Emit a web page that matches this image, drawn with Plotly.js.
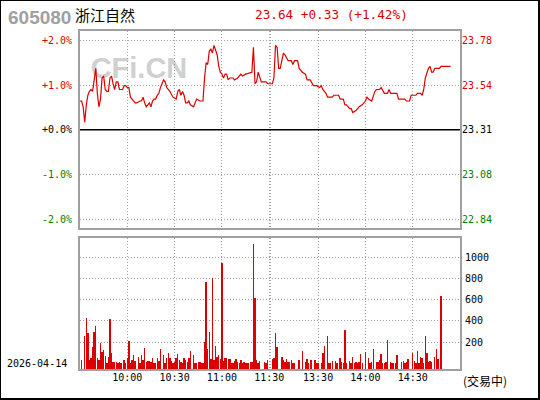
<!DOCTYPE html>
<html><head><meta charset="utf-8">
<script src="https://cdn.plot.ly/plotly-3.0.1.min.js"></script>
<style>
html,body{margin:0;padding:0;background:#fff;}
#wrap{position:relative;width:540px;height:400px;overflow:hidden;}
#chart{position:absolute;left:0;top:0;width:540px;height:400px;}
#frame{position:absolute;left:0;top:0;width:540px;height:400px;box-sizing:border-box;border-style:solid;border-color:#000;border-width:1px 2px 2px 1px;pointer-events:none;}
</style></head>
<body><div id="wrap"><div id="chart"></div><div id="frame"></div></div>
<script>
// ---- data ----
const stockCode = '605080';
const stockName = '浙江自然';
const prevClose = 23.31;
const lastPrice = 23.64;
const tradeDate = '2026-04-14';
const statusText = '(交易中)';
const watermark = 'CFi.CN';

// trading-minute index (0 = 09:30, 120 = 11:30, 121 = 13:00, 241 = 15:00)
const priceMin = [0,1,2,3,4,5,6,7,8,9,10,11,12,13,14,15,16,17,18,19,20,21,22,23,24,25,26,27,28,29,30,31,32,33,35,36,38,39,40,41,42,43,44,45,46,47,48,49,50,51,53,54,55,57,59,61,62,63,64,65,66,67,68,69,70,72,73,74,76,78,79,80,81,82,83,84,85,86,87,88,89,90,91,92,93,94,95,97,98,100,101,102,103,105,109,110,111,112,113,114,115,117,118,119,120,121,122,123,124,125,126,127,128,129,130,131,132,134,135,136,138,139,140,141,143,144,146,147,148,150,152,153,154,156,157,160,161,164,165,167,168,169,171,172,173,175,176,177,179,180,181,182,183,185,186,187,188,190,191,192,193,195,196,197,199,201,202,206,207,209,210,213,214,216,217,218,219,220,221,222,223,224,225,226,228,229,235];
const priceVal = [23.46,23.46,23.43,23.35,23.44,23.49,23.51,23.52,23.51,23.57,23.63,23.50,23.43,23.47,23.58,23.59,23.52,23.51,23.51,23.58,23.59,23.55,23.52,23.56,23.56,23.52,23.52,23.52,23.54,23.54,23.53,23.53,23.48,23.47,23.45,23.45,23.46,23.46,23.48,23.45,23.43,23.44,23.45,23.43,23.46,23.47,23.47,23.49,23.50,23.53,23.57,23.56,23.53,23.51,23.48,23.47,23.51,23.52,23.49,23.51,23.49,23.45,23.45,23.46,23.44,23.43,23.45,23.47,23.46,23.46,23.58,23.66,23.65,23.72,23.73,23.71,23.75,23.73,23.70,23.64,23.61,23.60,23.58,23.60,23.60,23.57,23.58,23.58,23.57,23.58,23.59,23.60,23.59,23.60,23.61,23.74,23.55,23.56,23.61,23.58,23.56,23.56,23.56,23.55,23.55,23.55,23.55,23.58,23.75,23.74,23.63,23.63,23.68,23.71,23.70,23.68,23.67,23.67,23.65,23.67,23.67,23.63,23.62,23.61,23.60,23.57,23.57,23.55,23.54,23.54,23.53,23.54,23.52,23.50,23.48,23.48,23.49,23.49,23.47,23.47,23.44,23.44,23.42,23.42,23.40,23.41,23.42,23.43,23.44,23.45,23.46,23.48,23.47,23.46,23.49,23.51,23.52,23.52,23.53,23.51,23.50,23.50,23.52,23.50,23.50,23.50,23.47,23.47,23.46,23.46,23.49,23.49,23.50,23.50,23.49,23.52,23.58,23.61,23.63,23.64,23.61,23.61,23.63,23.63,23.63,23.64,23.64];

const volMin = [1,3,4,5,6,7,8,9,10,11,12,13,14,15,16,17,18,19,20,21,22,23,24,25,26,28,29,30,31,32,33,34,35,37,38,39,40,41,42,43,44,45,46,47,48,49,50,51,53,54,55,56,57,58,59,60,61,62,63,64,65,66,67,68,69,70,72,73,74,75,76,77,78,79,80,81,82,83,84,85,86,87,88,89,90,91,92,93,94,95,96,97,98,99,100,101,102,103,104,105,106,107,108,109,110,111,112,113,114,117,118,119,122,123,124,125,128,129,130,131,132,133,134,135,136,139,141,143,144,145,146,147,149,150,151,153,154,155,157,158,159,160,162,163,165,166,167,168,169,171,172,173,174,175,176,177,178,179,181,183,184,185,186,188,189,190,191,192,193,194,195,197,198,199,200,201,204,205,206,207,208,211,212,213,214,215,216,217,218,219,220,221,222,223,225,226,227,229];
const volVal = [88,314,480,339,88,107,210,351,408,107,88,248,163,182,125,60,116,474,154,69,69,69,60,69,60,88,60,107,267,60,88,135,78,116,60,135,88,201,69,78,78,69,107,60,60,107,78,191,135,60,107,154,107,78,60,69,107,144,88,69,60,107,88,69,107,173,135,60,60,69,69,60,60,257,822,191,351,97,860,88,220,116,135,97,1001,78,107,107,97,97,60,60,78,97,69,60,88,60,69,60,60,60,69,69,1179,672,88,60,78,69,60,88,97,107,342,210,116,88,69,97,69,69,88,60,60,88,173,69,97,60,88,88,88,60,60,60,154,220,314,60,60,78,78,60,107,69,60,370,60,78,60,116,60,69,60,69,144,60,163,107,60,69,191,69,69,88,144,60,60,69,276,69,60,60,60,135,69,78,60,69,97,154,78,60,173,60,116,107,60,314,154,69,78,69,116,191,97,690];

const timeTickMin  = [30,60,90,120,121,151,181,211];
const timeTickText = ['10:00','10:30','11:00','11:30','','13:30','14:00','14:30'];
const pctTicks = [2,1,0,-1,-2];
const volTicks = [200,400,600,800,1000];

// ---- styling / geometry ----
const W = 540, H = 400, L = 80, R = 80, T = 31, B = 31;
const plotH = H - T - B;
const py = p => (H - B - p) / plotH;
const px = p => (p - L) / (W - L - R);
const RED = '#dd0000', GREEN = '#008000';
const GRID = '#a0a0a0', FRAME = '#a0a0a0';
const mono = 'DejaVu Sans Mono, monospace';
const pctRange = [-2.194, 2.208];
const priceRange = pctRange.map(p => prevClose * (1 + p / 100));
const volBaseOffset = 54;     // zero of the volume scale sits this far above the panel floor
const volTop = 1236;

const colorFor = k => k > 0 ? RED : (k < 0 ? GREEN : '#000');
const tickPrices = pctTicks.map(k => prevClose * (1 + k / 100));
const pctText = pctTicks.map(k => `<span style="color:${colorFor(k)}">${k >= 0 ? '+' : ''}${k.toFixed(1)}%</span>`);
const priceText = pctTicks.map((k, i) => `<span style="color:${colorFor(k)}">${tickPrices[i].toFixed(2)}</span>`);

const chg = lastPrice - prevClose;
const chgPct = chg / prevClose * 100;
const quote = `${lastPrice.toFixed(2)} ${chg >= 0 ? '+' : ''}${chg.toFixed(2)} (${chgPct >= 0 ? '+' : ''}${chgPct.toFixed(2)}%)`;

const traces = [
  { type: 'scatter', mode: 'lines', x: priceMin, y: priceVal, xaxis: 'x2', yaxis: 'y3',
    line: { color: RED, width: 0 }, opacity: 0, hoverinfo: 'skip' },
  { type: 'scatter', mode: 'lines', x: priceMin, y: priceVal, xaxis: 'x2', yaxis: 'y',
    line: { color: RED, width: 1.2 }, hoverinfo: 'skip' },
  { type: 'bar', x: volMin, y: volVal, xaxis: 'x', yaxis: 'y2', width: 0.9,
    marker: { color: RED, line: { width: 0 } }, hoverinfo: 'skip' }
];

const gridAx = { showgrid: true, gridcolor: GRID, griddash: '1px,2px', gridwidth: 1,
  showline: true, linecolor: FRAME, linewidth: 2, mirror: true, zeroline: false, ticks: '' };

const layout = {
  width: W, height: H, margin: { l: L, r: R, t: T, b: B, pad: 0 },
  paper_bgcolor: '#fff', plot_bgcolor: 'rgba(0,0,0,0)', showlegend: false,
  bargap: 0,
  xaxis: Object.assign({}, gridAx, { anchor: 'y2', domain: [0, 1], range: [0, 241],
    tickmode: 'array', tickvals: timeTickMin, ticktext: timeTickText,
    tickfont: { family: mono, size: 10, color: '#000' }, ticklabelstandoff: -2 }),
  xaxis2: Object.assign({}, gridAx, { anchor: 'y', matches: 'x', domain: [0, 1], range: [0, 241],
    tickmode: 'array', tickvals: timeTickMin, showticklabels: false }),
  yaxis: Object.assign({}, gridAx, { anchor: 'x2', domain: [py(228), 1], range: priceRange,
    tickmode: 'array', tickvals: tickPrices, ticktext: pctText, side: 'left',
    tickfont: { family: mono, size: 10, color: '#000' }, ticklabelstandoff: 4 }),
  yaxis3: { overlaying: 'y', anchor: 'x2', side: 'right', range: priceRange, showgrid: false,
    zeroline: false, showline: false, ticks: '', tickmode: 'array', tickvals: tickPrices, ticktext: priceText,
    tickfont: { family: mono, size: 10, color: '#000' }, ticklabelstandoff: 1 },
  yaxis2: Object.assign({}, gridAx, { anchor: 'x', domain: [0, py(238)], range: [0, volTop], side: 'right',
    tickmode: 'array', tickvals: volTicks.map(v => v + volBaseOffset), ticktext: volTicks.map(String),
    tickfont: { family: mono, size: 10, color: '#000' }, ticklabelstandoff: 1 }),
  shapes: [
    { type: 'line', xref: 'x2 domain', yref: 'y', x0: 0, x1: 1, y0: prevClose, y1: prevClose,
      line: { color: '#000', width: 1.5 } },
    { type: 'rect', xref: 'paper', yref: 'paper', x0: px(86), x1: px(192), y0: py(80), y1: py(50),
      line: { width: 0 }, fillcolor: 'rgba(0,0,0,0)', layer: 'below',
      label: { text: watermark, textposition: 'middle center',
        font: { family: 'Liberation Sans, Arial, sans-serif', size: 29, color: '#d0d0d0', weight: 'bold' } } }
  ],
  annotations: [
    { xref: 'paper', yref: 'paper', x: px(6), y: py(17), xanchor: 'left', yanchor: 'middle', showarrow: false,
      text: stockCode, font: { family: 'Liberation Sans, Arial, sans-serif', size: 19, color: '#a0a0a0', weight: 'bold' } },
    { xref: 'paper', yref: 'paper', x: px(73), y: py(14.5), xanchor: 'left', yanchor: 'middle', showarrow: false,
      text: stockName, font: { family: 'Noto Sans CJK SC', size: 15, color: '#000' } },
    { xref: 'paper', yref: 'paper', x: px(253), y: py(14.5), xanchor: 'left', yanchor: 'middle', showarrow: false,
      text: quote, font: { family: mono, size: 12.7, color: RED } },
    { xref: 'paper', yref: 'paper', x: px(5), y: py(363), xanchor: 'left', yanchor: 'middle', showarrow: false,
      text: tradeDate, font: { family: mono, size: 10, color: '#000' } },
    { xref: 'paper', yref: 'paper', x: px(461), y: py(380), xanchor: 'left', yanchor: 'middle', showarrow: false,
      text: statusText, font: { family: 'Noto Sans CJK SC', size: 12, color: '#000' } }
  ]
};

Plotly.newPlot('chart', traces, layout, { staticPlot: true, displayModeBar: false });
</script>
</body></html>
